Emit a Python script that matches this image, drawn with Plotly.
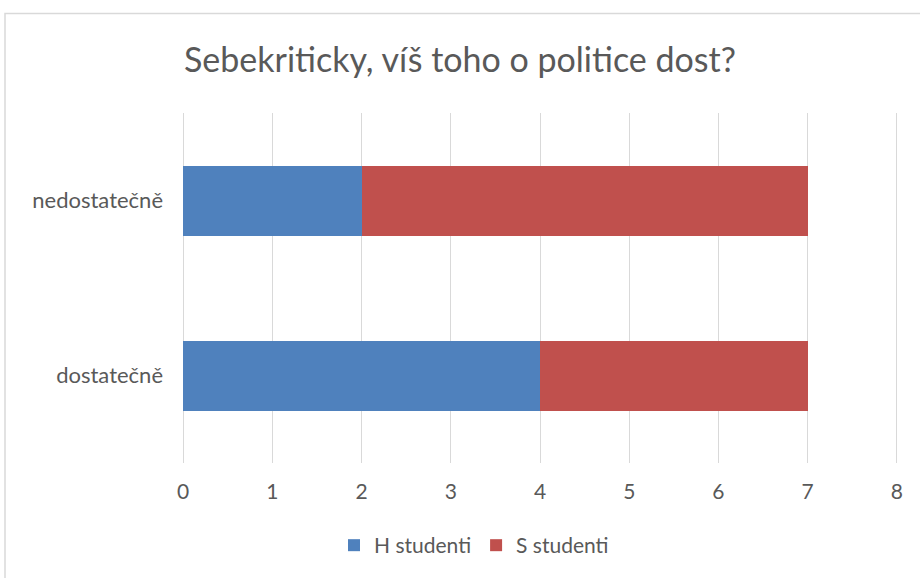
import plotly.graph_objects as go

categories = ["dostatečně", "nedostatečně"]
h_studenti = [4, 2]
s_studenti = [3, 5]
x_ticks = [0, 1, 2, 3, 4, 5, 6, 7, 8]

font_family = "Lato, Open Sans, sans-serif"
grey = "#595959"

fig = go.Figure()
fig.add_trace(go.Bar(y=categories, x=h_studenti, name="H studenti", orientation="h",
                     marker=dict(color="#4f81bd", line=dict(width=0))))
fig.add_trace(go.Bar(y=categories, x=s_studenti, name="S studenti", orientation="h",
                     marker=dict(color="#c0504d", line=dict(width=0))))

L, R, T, B = 182, 22, 113, 113
W, H = 920, 578
pw = W - L - R
ph = H - T - B

def px2x(p):
    return (p - L) / pw

def py2y(p):
    return (H - B - p) / ph

fig.update_layout(
    barmode="stack",
    bargap=0.6,
    width=W, height=H,
    margin=dict(l=L, r=R, t=T, b=B),
    paper_bgcolor="white",
    plot_bgcolor="white",
    font=dict(family=font_family, color=grey, size=21),
    title=dict(text="Sebekriticky, víš toho o politice dost?", x=0.5, xanchor="center",
               y=1 - 60 / H, yanchor="middle",
               font=dict(size=34, color=grey, family=font_family)),
    xaxis=dict(range=[-0.012, 8.012], tickvals=x_ticks, showgrid=True, gridcolor="#d9d9d9",
               gridwidth=1.3, zeroline=False, showline=False, ticks="",
               ticklabelstandoff=14, tickfont=dict(size=21, color=grey), fixedrange=True),
    yaxis=dict(showgrid=False, zeroline=False, showline=False, ticks="",
               ticklabelstandoff=18, tickfont=dict(size=22, color=grey), fixedrange=True),
    legend=dict(orientation="h", x=px2x(474), xanchor="center", y=py2y(548), yanchor="middle",
                font=dict(size=21, color=grey), traceorder="normal", itemwidth=30),
    showlegend=True,
    shapes=[dict(type="rect", xref="paper", yref="paper",
                 x0=px2x(5), x1=px2x(930), y0=py2y(590), y1=py2y(13),
                 line=dict(color="#d9d9d9", width=1.5), fillcolor="rgba(0,0,0,0)",
                 layer="below")],
)

fig.write_html("out.html", config={"displayModeBar": False},
               post_script="document.body.style.margin='0';")
